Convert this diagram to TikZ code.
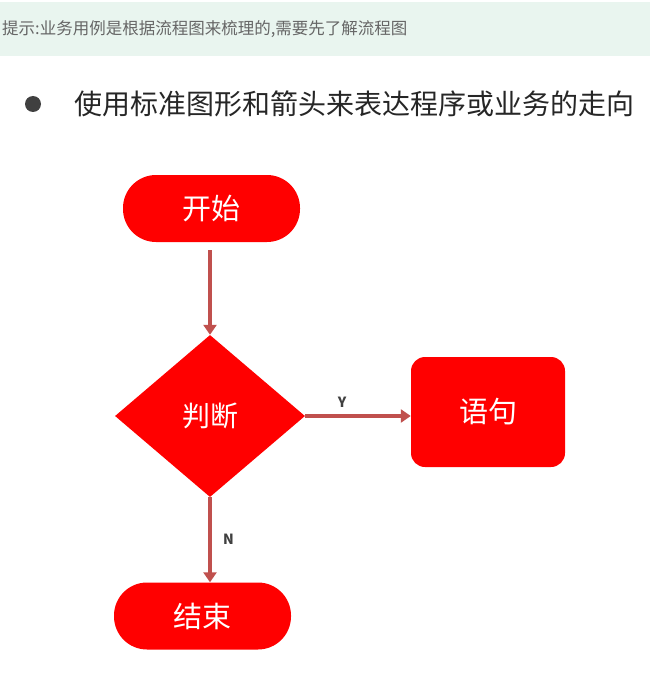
\documentclass[tikz,border=0pt]{standalone}
\usepackage{fontspec}
\setmainfont{Noto Sans CJK SC}
\usetikzlibrary{shapes.geometric,arrows.meta}
\definecolor{banner}{HTML}{E9F5EF}
\definecolor{arr}{HTML}{C0504D}
\tikzset{
  term/.style={fill=red,draw=none,rounded corners=33pt,minimum width=177pt,minimum height=67pt,text=white,font=\fontsize{29}{32}\selectfont},
  proc/.style={fill=red,draw=none,rounded corners=14pt,minimum width=154pt,minimum height=110pt,text=white,font=\fontsize{29}{32}\selectfont},
  dec/.style={fill=red,draw=none,diamond,minimum width=190pt,minimum height=162pt,inner sep=0pt,text=white,font=\fontsize{28}{32}\selectfont},
  flow/.style={draw=arr,line width=3.5pt,-{Triangle[length=10pt,width=13pt]}},
  lab/.style={font=\bfseries\fontsize{14}{16}\selectfont,text=black!75}
}
\begin{document}
\begin{tikzpicture}[x=1pt,y=-1pt]
\useasboundingbox (0,0) rectangle (650,674);
\fill[banner] (0,2) rectangle (650,56);
\node[anchor=west,inner sep=2pt,text=black!60,font=\fontsize{16.5}{19}\selectfont] (tip) at (0,29) {提示:业务用例是根据流程图来梳理的,需要先了解流程图};
\fill[black!75] (33,104) circle (8pt);
\node[anchor=west,inner sep=2pt,text=black!85,font=\fontsize{28}{32}\selectfont] (head) at (72,104) {使用标准图形和箭头来表达程序或业务的走向};
\node[term] (start) at (211.5,208.5) {开始};
\node[dec] (judge) at (210,416) {判断};
\node[proc] (stmt) at (488,412) {语句};
\node[term] (end) at (202.5,616) {结束};
\coordinate (s1) at (210,250);
\draw[flow] (s1) -- (judge.north);
\draw[flow] (judge.east) -- (judge.east-|stmt.west) node[lab,pos=0.35,above=3pt] {Y};
\draw[flow] (judge.south) -- (end.north-|judge.south) node[lab,pos=0.5,right=8pt] {N};
\end{tikzpicture}
\end{document}
